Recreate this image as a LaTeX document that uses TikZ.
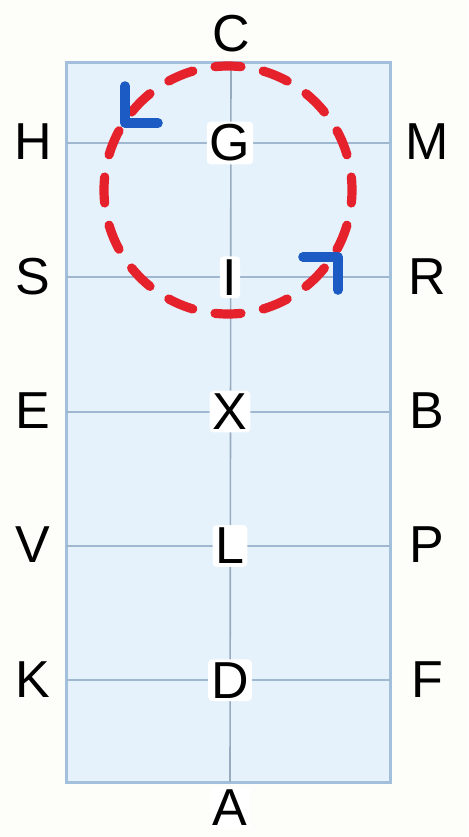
\documentclass[tikz,border=0pt]{standalone}
\usepackage{fontspec}
\setmainfont{Liberation Sans}
\definecolor{paper}{HTML}{FDFDFA}
\definecolor{sheet}{HTML}{E5F2FC}
\definecolor{rim}{HTML}{A2BFDB}
\definecolor{rule}{HTML}{9FB7CF}
\definecolor{loopred}{HTML}{E5222B}
\definecolor{tipblue}{HTML}{1D5BC4}
\begin{document}
\begin{tikzpicture}[x=0.5pt, y=-0.5pt,
  lab/.style={font=\fontsize{26}{30}\selectfont, inner sep=2pt},
  onrule/.style={lab, fill=white, inner sep=1.5pt, rounded corners=2pt},
  edge/.style={draw=rim, line width=1.5pt},
  rulel/.style={draw=rule, line width=1pt},
  spine/.style={draw=rule!80!gray, line width=0.8pt},
  loopc/.style={draw=loopred, line width=4.6pt, line cap=round,
    dash pattern=on 13pt off 11.35pt, dash phase=6.5pt},
  turn/.style={draw=tipblue, line width=4.8pt, line cap=round, line join=round}]
\useasboundingbox[fill=paper] (0,0) rectangle (468,837);
\def\dy{134.3}
% the sheet
\coordinate (tl) at (66,62);
\coordinate (br) at (390,782);
\fill[sheet] (tl) rectangle (br);
\draw[edge] (tl) rectangle (br);
% end labels
\node[lab] (C) at (231,34) {C};
\node[onrule] (A) at (230,808) {A};
\draw[spine] (tl -| C) -- (A |- br);
% rows: left / middle / right
\foreach \l/\m/\r [count=\i from 0] in {H/G/M, S/I/R, E/X/B, V/L/P, K/D/F} {
  \coordinate (row\i) at (230,143+\i*\dy);
  \draw[rulel] (tl |- row\i) -- (br |- row\i);
  \node[lab] (\l) at (33,142+\i*\dy) {\l};
  \node[onrule] (\m) at (row\i) {\m};
  \node[lab] (\r) at (427,142+\i*\dy) {\r};
}
% rotation
\coordinate (o) at (228,190);
\draw[loopc] (o) circle[radius=124];
\draw[turn] (125,86) -- (125,123) -- (158,123);
\draw[turn] (303,257) -- (338,257) -- (338,290);
\end{tikzpicture}
\end{document}
